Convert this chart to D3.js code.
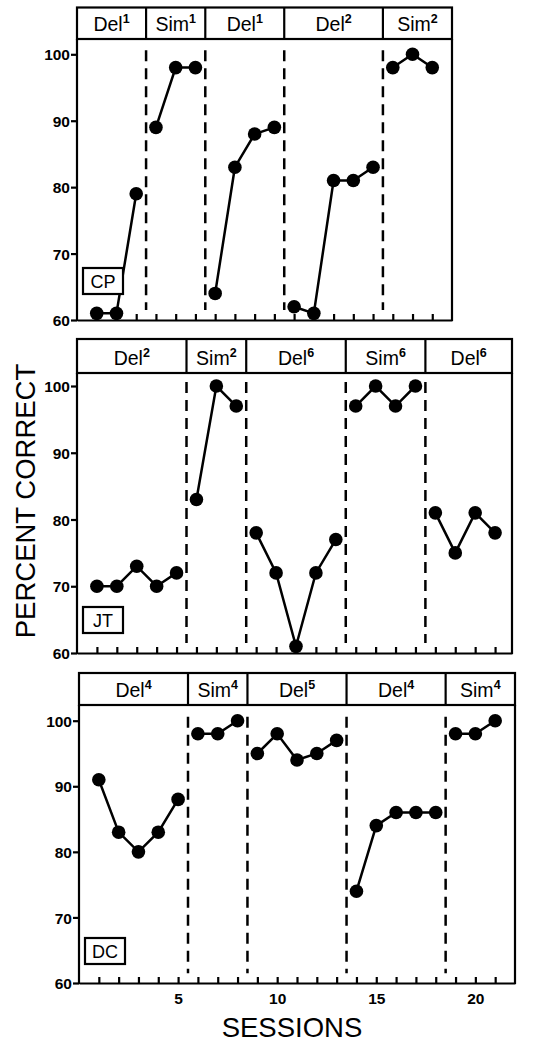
<!DOCTYPE html>
<html>
<head>
<meta charset="utf-8">
<script src="https://cdn.jsdelivr.net/npm/d3@7"></script>
<style>
  html, body { margin: 0; padding: 0; background: #fff; }
  svg { display: block; }
  text { font-family: "Liberation Sans", Arial, Helvetica, sans-serif; fill: #000; }
</style>
</head>
<body>
<svg id="chart" width="538" height="1043"></svg>
<script>
// ---------- DATA ----------
const yTicks = [60, 70, 80, 90, 100];
const xTickLabels = [5, 10, 15, 20];

const cpSubject = "CP";
const cpValues = [61, 61, 79, 89, 98, 98, 64, 83, 88, 89, 62, 61, 81, 81, 83, 98, 100, 98];
const cpPhaseNames = ["Del", "Sim", "Del", "Del", "Sim"];
const cpPhaseSups = ["1", "1", "1", "2", "2"];
const cpPhaseLengths = [3, 3, 4, 5, 3];

const jtSubject = "JT";
const jtValues = [70, 70, 73, 70, 72, 83, 100, 97, 78, 72, 61, 72, 77, 97, 100, 97, 100, 81, 75, 81, 78];
const jtPhaseNames = ["Del", "Sim", "Del", "Sim", "Del"];
const jtPhaseSups = ["2", "2", "6", "6", "6"];
const jtPhaseLengths = [5, 3, 5, 4, 4];

const dcSubject = "DC";
const dcValues = [91, 83, 80, 83, 88, 98, 98, 100, 95, 98, 94, 95, 97, 74, 84, 86, 86, 86, 98, 98, 100];
const dcPhaseNames = ["Del", "Sim", "Del", "Del", "Sim"];
const dcPhaseSups = ["4", "4", "5", "4", "4"];
const dcPhaseLengths = [5, 3, 5, 5, 3];

// ---------- LAYOUT ----------
const panels = [
  { subject: cpSubject, values: cpValues, names: cpPhaseNames, sups: cpPhaseSups, lengths: cpPhaseLengths,
    xMax: 19, left: 77, right: 452, hTop: 7.5, hBot: 39, y100: 54.3, bottom: 320, labelOff: 52, showX: false },
  { subject: jtSubject, values: jtValues, names: jtPhaseNames, sups: jtPhaseSups, lengths: jtPhaseLengths,
    xMax: 21.85, left: 77, right: 512, hTop: 339, hBot: 373, y100: 386, bottom: 653, labelOff: 46, showX: false },
  { subject: dcSubject, values: dcValues, names: dcPhaseNames, sups: dcPhaseSups, lengths: dcPhaseLengths,
    xMax: 22, left: 79, right: 515, hTop: 673, hBot: 705, y100: 720.7, bottom: 983, labelOff: 45, showX: true }
];

const svg = d3.select("#chart");
const SW = 2.2;

panels.forEach(p => {
  const g = svg.append("g");
  const x = d3.scaleLinear().domain([0, p.xMax]).range([p.left, p.right]);
  const y = d3.scaleLinear().domain([60, 100]).range([p.bottom, p.y100]);

  // phase boundaries
  const breaks = [];
  let cum = 0;
  p.lengths.forEach((len, i) => { cum += len; if (i < p.lengths.length - 1) breaks.push(cum + 0.5); });
  const edges = [0].concat(breaks).concat([p.xMax]);

  // header box
  g.append("rect")
    .attr("x", p.left).attr("y", p.hTop)
    .attr("width", p.right - p.left).attr("height", p.hBot - p.hTop)
    .attr("fill", "none").attr("stroke", "#000").attr("stroke-width", SW);
  g.selectAll(".hdiv").data(breaks).enter().append("line")
    .attr("x1", d => x(d)).attr("x2", d => x(d))
    .attr("y1", p.hTop).attr("y2", p.hBot)
    .attr("stroke", "#000").attr("stroke-width", SW);

  // header labels
  p.names.forEach((nm, i) => {
    const cx = (x(edges[i]) + x(edges[i + 1])) / 2;
    const t = g.append("text")
      .attr("x", cx).attr("y", p.hBot - 8)
      .attr("text-anchor", "middle")
      .attr("font-size", 19.5);
    t.append("tspan").text(nm);
    t.append("tspan").text(p.sups[i]).attr("dy", -8).attr("font-size", 12.5).attr("font-weight", "bold");
  });

  // frame sides
  g.append("line").attr("x1", p.left).attr("x2", p.left).attr("y1", p.hBot).attr("y2", p.bottom + 1)
    .attr("stroke", "#000").attr("stroke-width", SW);
  g.append("line").attr("x1", p.right).attr("x2", p.right).attr("y1", p.hBot).attr("y2", p.bottom + 1)
    .attr("stroke", "#000").attr("stroke-width", SW);

  // y axis
  const yAxis = d3.axisLeft(y).tickValues(yTicks).tickSizeInner(6).tickSizeOuter(0).tickPadding(1);
  const ya = g.append("g").attr("transform", `translate(${p.left},0)`).call(yAxis);
  ya.select(".domain").remove();
  ya.selectAll(".tick line").attr("stroke", "#000").attr("stroke-width", SW);
  ya.selectAll(".tick text")
    .attr("font-family", "'Liberation Sans', Arial, sans-serif")
    .attr("font-size", 15.5).attr("font-weight", "bold").attr("fill", "#000")
    .attr("dy", "0.36em");

  // x axis
  const sessions = d3.range(1, p.values.length + 1);
  const xAxis = d3.axisBottom(x).tickValues(sessions).tickSizeInner(-6).tickSizeOuter(0).tickPadding(10)
    .tickFormat(d => (p.showX && xTickLabels.includes(d)) ? d : "");
  const xa = g.append("g").attr("transform", `translate(0,${p.bottom})`).call(xAxis);
  xa.select(".domain").attr("stroke", "#000").attr("stroke-width", SW);
  xa.selectAll(".tick line").attr("stroke", "#000").attr("stroke-width", SW);
  xa.selectAll(".tick text")
    .attr("font-family", "'Liberation Sans', Arial, sans-serif")
    .attr("font-size", 15.5).attr("font-weight", "bold").attr("fill", "#000");

  // dashed phase lines
  g.selectAll(".dash").data(breaks).enter().append("line")
    .attr("x1", d => x(d)).attr("x2", d => x(d))
    .attr("y1", y(100.6)).attr("y2", y(61.5))
    .attr("stroke", "#000").attr("stroke-width", 2.5)
    .attr("stroke-dasharray", "11,7");

  // data lines per phase
  const pts = p.values.map((v, i) => ({ s: i + 1, v: v }));
  let start = 0;
  const groups = [];
  p.lengths.forEach(len => { groups.push(pts.slice(start, start + len)); start += len; });
  const line = d3.line().x(d => x(d.s)).y(d => y(d.v));
  g.selectAll(".seg").data(groups).enter().append("path")
    .attr("d", line).attr("fill", "none").attr("stroke", "#000").attr("stroke-width", 2.5);
  g.selectAll(".dot").data(pts).enter().append("circle")
    .attr("cx", d => x(d.s)).attr("cy", d => y(d.v)).attr("r", 6.8).attr("fill", "#000");

  // subject label box
  const bx = p.left + 6, by = p.bottom - p.labelOff;
  g.append("rect").attr("x", bx).attr("y", by).attr("width", 40).attr("height", 26)
    .attr("fill", "#fff").attr("stroke", "#000").attr("stroke-width", SW);
  g.append("text").attr("x", bx + 20).attr("y", by + 20).attr("text-anchor", "middle")
    .attr("font-size", 18).text(p.subject);
});

// axis titles
svg.append("text")
  .attr("transform", "translate(35,501) rotate(-90)")
  .attr("text-anchor", "middle").attr("font-size", 27.5)
  .text("PERCENT CORRECT");
svg.append("text")
  .attr("x", 292).attr("y", 1037).attr("text-anchor", "middle").attr("font-size", 27.5)
  .text("SESSIONS");
</script>
</body>
</html>
